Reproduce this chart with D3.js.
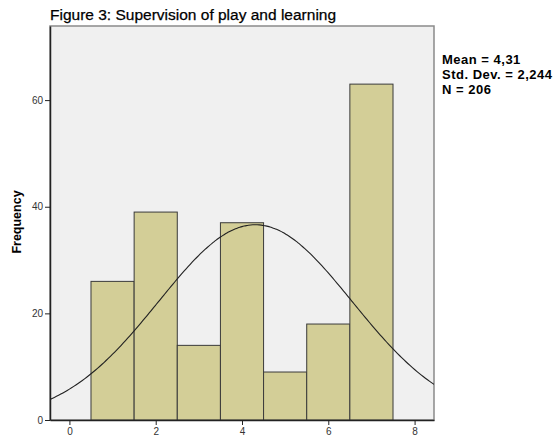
<!DOCTYPE html>
<html lang="en">
<head>
<meta charset="UTF-8">
<title>Figure 3</title>
<script src="https://d3js.org/d3.v7.min.js"></script>
<style>
  body { margin: 0; background: #fff; font-family: Arial, "Liberation Sans", sans-serif; }
  svg { display: block; }
  .tick text { font-size: 10px; fill: #333; font-family: Arial, "Liberation Sans", sans-serif; }
</style>
</head>
<body>
<svg id="chart" width="560" height="443"></svg>
<script>
  // bins are centred on the values 1..7, width 1
  const binCenters = [1, 2, 3, 4, 5, 6, 7];
  const frequencies = [26, 39, 14, 37, 9, 18, 63];
  const xTicks = [0, 2, 4, 6, 8];
  const yTicks = [0, 20, 40, 60];
  const statLines = ["Mean = 4,31", "Std. Dev. = 2,244", "N = 206"];
  const mean = 4.31, sd = 2.244, n = 206, binWidth = 1;

  const plot = {left: 50, top: 26, right: 434, bottom: 420};

  const svg = d3.select("#chart");

  const x = d3.scaleLinear().domain([-0.45, 8.45]).range([plot.left, plot.right]);
  const y = d3.scaleLinear().domain([0, 73.9]).range([plot.bottom, plot.top]);

  svg.append("rect")
     .attr("x", plot.left).attr("y", plot.top)
     .attr("width", plot.right - plot.left).attr("height", plot.bottom - plot.top)
     .attr("fill", "#f0f0f0")
     .attr("stroke", "#8a8a8a").attr("stroke-width", 1.5);

  svg.append("clipPath").attr("id", "clip")
     .append("rect")
     .attr("x", plot.left).attr("y", plot.top)
     .attr("width", plot.right - plot.left).attr("height", plot.bottom - plot.top);

  svg.selectAll("rect.bar")
     .data(binCenters)
     .enter()
     .append("rect")
     .attr("class", "bar")
     .attr("x", d => x(d - binWidth / 2))
     .attr("y", (d, i) => y(frequencies[i]))
     .attr("width", d => x(d + binWidth / 2) - x(d - binWidth / 2))
     .attr("height", (d, i) => y(0) - y(frequencies[i]))
     .attr("fill", "#d3ce97")
     .attr("stroke", "#3a3a3a")
     .attr("stroke-width", 1);

  // fitted normal curve from mean, sd and N
  const curveX = d3.range(-0.45, 8.46, 0.05);
  const density = v => n * binWidth * Math.exp(-0.5 * ((v - mean) / sd) ** 2) / (sd * Math.sqrt(2 * Math.PI));
  svg.append("path")
     .datum(curveX)
     .attr("clip-path", "url(#clip)")
     .attr("fill", "none")
     .attr("stroke", "#222")
     .attr("stroke-width", 1.1)
     .attr("d", d3.line().x(d => x(d)).y(d => y(density(d))).curve(d3.curveMonotoneX));

  const xAxis = svg.append("g")
     .attr("transform", `translate(0,${plot.bottom})`)
     .call(d3.axisBottom(x).tickValues(xTicks).tickSize(5).tickSizeOuter(0).tickPadding(3));
  xAxis.select(".domain").attr("stroke", "#222").attr("stroke-width", 1.5);
  xAxis.selectAll(".tick line").attr("stroke", "#222");

  const yAxis = svg.append("g")
     .attr("transform", `translate(${plot.left},0)`)
     .call(d3.axisLeft(y).tickValues(yTicks).tickSize(5).tickSizeOuter(0).tickPadding(2));
  yAxis.select(".domain").attr("stroke", "#222").attr("stroke-width", 1.5);
  yAxis.selectAll(".tick line").attr("stroke", "#222");

  svg.append("text")
     .attr("transform", "rotate(-90)")
     .attr("x", -222).attr("y", 21)
     .attr("text-anchor", "middle")
     .attr("font-size", 12.5).attr("font-weight", "bold")
     .text("Frequency");

  svg.append("text")
     .attr("x", 50).attr("y", 20)
     .attr("font-size", 15.5)
     .attr("stroke", "#000").attr("stroke-width", 0.25)
     .text("Figure 3: Supervision of play and learning");

  svg.append("g")
     .selectAll("text")
     .data(statLines)
     .enter()
     .append("text")
     .attr("x", 442)
     .attr("y", (d, i) => 64 + i * 15)
     .attr("font-size", 13).attr("font-weight", "bold")
     .attr("letter-spacing", 0.5)
     .text(d => d);
</script>
</body>
</html>
